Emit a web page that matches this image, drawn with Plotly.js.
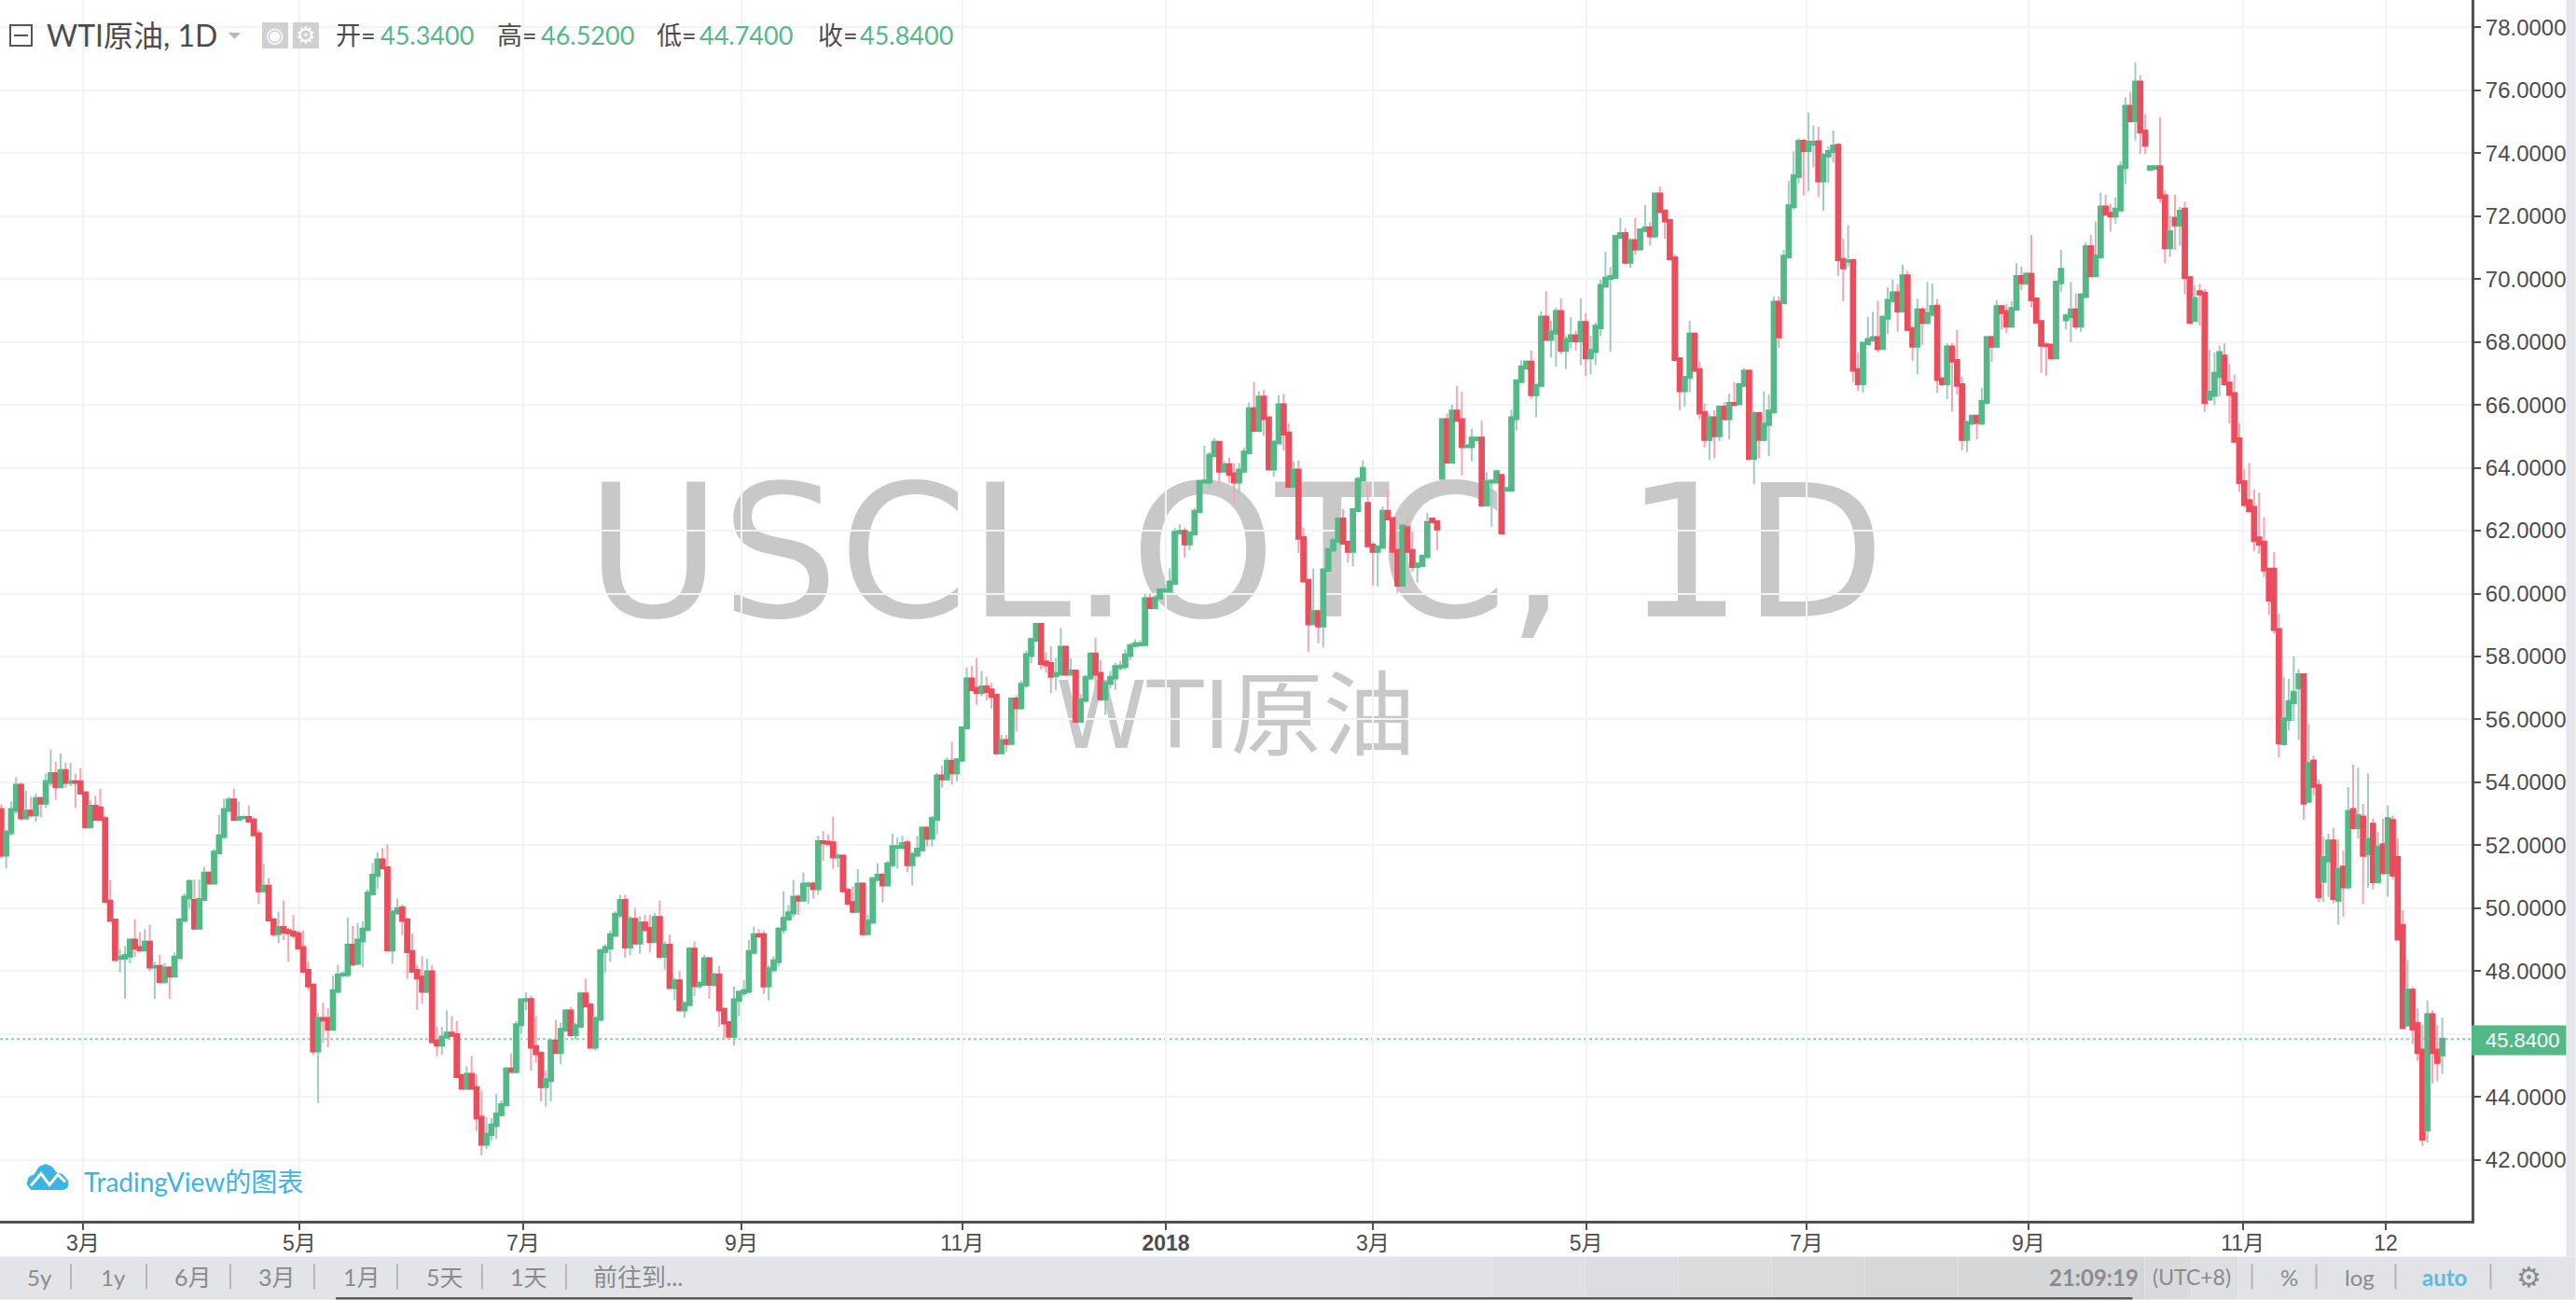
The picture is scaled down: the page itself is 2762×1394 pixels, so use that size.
<!DOCTYPE html>
<html>
<head>
<meta charset="utf-8">
<script src="https://cdn.plot.ly/plotly-3.0.1.min.js"></script>
<style>html,body{margin:0;padding:0;background:#fff;overflow:hidden}</style>
</head>
<body>
<div id="chart" style="width:2762px;height:1394px"></div>
<script>
// WTI daily bars, oldest first
const opens = [
53.14,51.69,52.40,53.11,53.91,52.87,53.09,52.97,53.49,53.34,
54.0,54.28,53.86,54.38,54.0,54.02,54.02,53.67,52.58,53.24,
53.19,52.85,50.23,49.63,48.41,48.41,48.48,48.99,48.75,48.67,
48.92,48.13,48.15,47.66,48.10,47.84,48.43,49.61,50.33,50.25,
49.37,50.28,51.12,50.80,51.76,52.28,53.11,53.44,52.82,52.87,
52.89,52.80,52.37,50.55,50.70,49.63,49.19,49.39,49.29,49.24,
49.19,48.75,48.03,47.56,45.46,46.50,46.50,46.16,47.36,47.88,
47.89,48.83,48.25,48.96,49.32,50.46,51.04,51.54,51.29,48.67,
49.85,50.01,49.63,48.63,48.03,47.81,47.36,47.98,45.78,45.65,
45.91,46.03,45.98,44.68,44.28,44.72,44.30,43.36,42.50,42.80,
43.09,43.44,43.75,44.89,44.81,46.30,47.07,47.10,45.60,45.39,
44.33,44.52,45.78,45.41,46.13,46.74,45.98,46.25,47.28,46.92,
45.58,46.47,48.63,48.73,49.14,49.78,50.25,48.77,49.65,48.89,
49.53,49.36,48.94,49.71,48.47,48.83,47.48,47.69,46.77,46.94,
48.70,47.54,47.58,48.40,47.58,47.88,46.79,46.37,45.93,47.07,
47.31,47.36,48.60,49.16,49.16,47.53,48.05,48.30,49.32,49.66,
49.85,50.35,50.26,50.72,50.77,50.62,52.12,52.10,52.08,51.63,
51.66,50.57,50.18,49.90,50.77,49.19,49.56,50.92,51.05,50.74,
51.38,51.93,51.94,52.08,51.38,51.69,51.86,52.55,52.23,52.82,
54.21,54.11,54.67,54.30,54.70,55.73,57.29,56.99,56.85,57.04,
56.94,56.77,54.94,55.33,55.24,56.65,56.37,57.09,58.03,58.52,
59.02,57.83,57.78,57.39,57.44,58.30,57.44,57.54,55.94,56.61,
57.32,58.08,57.47,56.65,57.14,57.32,57.65,57.68,58.03,58.35,
58.38,58.38,59.84,59.56,59.86,60.08,60.08,60.33,61.93,61.98,
61.58,61.90,62.60,63.54,63.54,64.38,64.81,63.89,64.10,63.81,
63.54,63.89,64.48,65.88,65.19,66.25,65.59,63.96,64.79,66.0,
65.11,63.41,63.93,61.78,60.42,59.04,59.43,58.97,60.74,61.38,
61.66,62.37,61.63,61.34,62.64,63.61,62.87,61.54,61.34,61.47,
62.62,62.39,61.37,60.27,62.10,61.37,60.86,60.89,61.17,62.37,
62.28,63.66,65.53,64.18,65.80,65.53,64.67,64.67,64.89,64.94,
62.82,63.54,63.54,63.76,63.29,63.29,65.56,66.74,67.17,67.36,
66.32,66.62,68.79,68.08,68.28,68.97,67.73,68.03,68.2,68.03,
68.62,67.49,67.69,68.45,69.77,70.01,70.05,71.32,71.44,70.53,
71.22,70.95,71.54,71.63,71.37,72.7,72.16,71.86,70.67,67.46,
66.45,66.87,68.25,67.12,65.76,64.9,65.59,65.02,65.93,65.56,
66.05,66.03,66.62,67.07,64.3,65.72,64.9,65.37,65.78,69.26,
69.24,70.7,72.3,73.26,74.38,74.08,74.28,74.36,73.12,73.91,
74.05,74.25,70.62,70.56,70.58,67.12,66.67,67.94,68.06,68.14,
67.79,68.75,69.31,69.56,68.98,70.1,68.42,67.86,69.02,68.62,
68.88,69.14,66.82,66.67,67.84,67.41,66.64,64.9,65.42,65.64,
65.42,66.08,68.14,67.86,69.12,68.97,68.5,69.04,70.08,69.88,
70.15,69.37,68.65,67.91,67.89,67.49,69.88,68.7,68.8,69.02,
68.5,69.44,71.03,70.1,70.7,72.29,72.09,72.0,72.19,73.54,
75.49,75.03,76.26,74.7,73.48,73.52,73.57,72.64,70.99,71.93,
71.72,72.22,70.04,68.68,69.6,69.55,66.18,66.3,66.9,67.55,
66.69,66.36,64.92,63.56,62.96,62.74,61.77,61.64,60.78,60.78,
58.86,55.23,56.0,56.53,57.0,57.42,53.4,54.68,53.9,50.86,
51.5,52.14,50.25,51.31,50.68,53.14,52.56,52.9,51.74,52.67,
50.84,52.02,51.13,52.79,51.61,49.46,46.29,47.4,46.34,45.49,
42.95,46.62,45.49,45.34];

const highs = [
53.3,52.5,53.4,54.16,54.0,53.73,53.54,53.64,53.54,54.28,
55.05,54.65,54.92,54.62,54.62,54.28,54.46,53.7,53.44,53.57,
53.8,52.94,50.9,49.65,48.70,48.80,49.04,49.65,49.24,49.34,
49.48,48.3,48.52,48.25,48.15,48.6,49.7,50.48,50.92,50.92,
50.92,51.31,51.17,51.89,52.97,53.49,53.54,53.80,53.39,52.95,
53.27,52.9,52.50,51.41,50.95,49.7,49.88,50.25,49.39,49.78,
49.29,49.29,48.30,47.61,46.67,46.99,46.82,47.86,48.2,48.0,
49.71,49.44,49.54,49.59,50.6,51.44,51.78,51.91,52.03,49.95,
50.31,50.13,49.7,49.19,48.2,48.47,48.4,48.2,46.23,46.23,
46.75,46.57,46.42,44.75,44.97,45.31,44.72,44.20,43.36,43.33,
44.1,43.9,44.95,45.39,46.42,47.12,47.33,47.22,46.57,45.45,
44.84,45.85,46.45,46.37,46.8,46.87,46.35,47.35,47.76,47.0,
46.57,48.72,48.85,49.3,49.9,50.43,50.43,49.75,50.0,49.75,
49.8,49.8,49.85,50.25,48.95,49.16,47.8,48.0,47.05,48.77,
48.94,47.7,48.52,48.45,47.95,48.17,46.85,46.42,47.51,47.4,
47.71,49.0,49.41,49.34,49.29,48.2,48.47,49.4,50.54,50.11,
50.90,50.45,51.14,50.85,50.85,52.30,52.45,52.35,52.91,51.76,
51.72,50.65,50.70,51.24,50.82,49.80,51.0,51.43,51.14,51.5,
52.37,52.25,52.3,52.18,51.8,52.30,52.6,52.6,52.94,54.3,
54.53,54.80,55.29,54.77,55.78,57.65,57.70,57.95,57.54,57.36,
57.16,56.8,55.51,55.51,56.7,56.77,57.24,58.18,58.6,59.07,
59.05,58.13,58.33,57.95,58.90,58.35,57.95,57.56,56.8,57.4,
58.13,58.60,57.88,57.25,57.54,57.81,57.85,58.23,58.42,58.55,
58.52,60.0,60.0,59.91,60.15,60.30,60.8,62.08,62.2,62.10,
61.98,62.72,63.61,64.70,64.5,64.94,64.85,64.2,64.33,64.15,
64.15,64.65,66.08,66.72,66.43,66.47,65.62,64.89,66.31,66.35,
65.42,64.2,64.23,62.10,60.45,60.80,59.46,60.80,61.44,61.78,
62.47,62.69,61.66,62.72,63.71,64.23,63.46,61.64,61.51,62.77,
63.28,62.42,61.40,62.23,62.42,61.98,60.99,61.24,62.57,62.42,
62.33,65.58,65.73,66.0,66.60,66.42,64.75,65.24,64.99,65.49,
63.86,63.61,63.94,63.78,63.36,65.85,66.8,67.41,67.41,67.73,
66.67,68.97,69.61,68.67,69.09,69.39,68.2,68.79,68.35,69.39,
68.91,68.2,68.62,69.98,70.87,70.38,71.4,71.94,71.61,71.3,
71.94,71.61,72.35,71.81,72.75,72.95,72.2,71.9,70.79,67.5,
66.92,68.67,68.3,67.37,66.05,65.7,65.83,65.98,66.08,66.35,
66.72,66.7,67.17,67.12,65.82,65.78,66.43,66.33,69.44,69.44,
70.92,73.12,74.06,74.47,74.45,75.29,74.88,74.84,74.0,74.22,
74.72,74.31,71.29,71.71,70.65,67.66,68.0,68.8,68.95,69.31,
68.85,69.74,69.98,69.83,70.46,70.26,68.5,69.37,69.1,69.91,
69.86,69.37,66.9,67.96,67.96,68.38,66.9,65.49,65.66,65.66,
66.55,68.2,68.2,69.32,69.18,69.21,69.29,70.5,70.4,70.23,
71.4,69.4,68.7,68.0,67.95,69.95,70.92,68.9,69.9,69.54,
69.55,71.17,71.4,71.82,72.75,72.68,72.38,72.59,73.74,75.77,
75.95,76.89,76.48,75.24,73.6,73.6,75.13,72.82,72.02,72.68,
72.29,72.46,70.1,69.81,69.84,69.68,67.76,67.66,67.88,67.95,
67.3,66.96,65.41,63.95,64.15,63.3,63.2,62.43,60.8,61.31,
59.36,57.34,57.29,58.0,57.61,57.47,55.86,54.86,54.09,52.27,
52.37,52.56,52.18,51.84,53.85,54.57,54.47,53.32,54.28,52.85,
52.42,52.85,53.27,52.95,52.21,49.94,48.35,47.5,46.82,46.29,
47.06,46.76,46.29,46.52];

const lows = [
51.6,51.27,52.3,53.0,52.8,52.80,52.89,52.75,52.89,53.2,
53.88,53.44,53.86,53.83,53.88,53.19,53.64,52.55,52.55,52.8,
52.8,50.18,49.58,48.35,47.96,47.12,48.25,48.45,48.65,48.65,
48.0,47.12,47.66,47.61,47.12,47.8,48.4,49.58,49.98,49.35,
49.35,50.25,50.77,50.75,51.7,52.2,53.05,52.8,52.8,52.85,
52.72,52.3,50.13,50.52,49.58,49.1,48.89,48.99,48.30,49.04,
48.7,47.96,47.41,45.34,43.81,45.73,45.58,46.1,47.3,47.8,
47.81,48.15,48.2,48.12,49.3,50.4,50.62,51.22,48.65,48.25,
49.8,49.14,47.76,47.95,46.77,46.97,47.3,45.72,45.29,45.34,
45.85,45.9,44.62,44.25,44.25,44.25,42.92,42.15,42.34,42.62,
42.67,43.4,43.7,44.78,44.75,46.0,46.77,44.84,45.09,43.86,
43.69,43.86,45.38,45.04,46.1,45.93,45.83,46.2,46.85,45.55,
45.47,46.4,47.96,48.3,49.1,49.7,48.42,48.5,48.85,48.55,
49.25,48.6,48.9,48.45,48.05,47.45,47.07,46.75,46.52,46.9,
47.21,47.45,47.55,47.12,47.5,46.23,45.83,45.83,45.63,46.57,
47.2,47.3,48.55,49.05,47.28,47.07,47.95,48.15,49.19,49.6,
49.73,49.78,50.2,50.13,50.31,50.43,51.51,52.0,51.26,51.31,
50.5,50.1,49.85,49.85,49.14,49.15,49.5,50.85,50.18,50.7,
51.3,51.26,51.85,51.14,50.72,51.61,51.8,51.96,51.96,52.35,
53.83,54.05,53.93,54.03,54.65,55.7,56.9,56.47,56.73,56.6,
56.35,54.87,54.9,54.97,55.2,55.61,56.3,57.0,57.78,58.45,
57.59,57.49,56.84,56.94,57.4,57.4,57.4,55.9,55.9,56.55,
57.25,57.0,56.6,56.15,56.99,56.94,57.55,57.58,57.88,58.28,
58.33,58.33,59.51,59.51,59.81,60.05,60.05,60.30,61.9,61.14,
61.39,61.88,62.57,63.5,63.36,64.35,63.46,63.86,63.51,62.87,
63.16,63.86,64.45,65.16,65.14,65.02,63.94,63.71,64.75,64.55,
63.38,63.36,61.29,60.35,58.15,59.02,58.42,58.28,60.70,61.34,
61.63,61.56,60.99,60.87,62.62,63.58,61.49,60.25,60.22,61.44,
62.33,60.70,60.02,60.25,61.29,60.70,60.35,60.84,61.14,62.23,
61.39,63.63,64.15,64.15,65.49,63.76,64.65,64.20,64.84,62.77,
62.77,62.13,63.51,61.86,63.26,63.26,65.19,66.72,67.14,66.2,
65.6,66.55,68.05,67.51,67.21,67.61,67.14,67.79,67.73,67.26,
66.92,66.97,67.26,68.2,69.74,67.69,70.0,71.28,70.48,70.36,
70.77,70.9,71.5,71.07,71.3,72.1,71.27,70.6,67.4,65.83,
65.95,66.4,67.05,65.54,64.65,64.25,64.3,64.85,65.5,64.9,
65.95,66.0,66.55,64.28,63.48,64.3,64.85,64.37,65.7,67.81,
69.2,70.65,72.2,73.04,72.65,72.8,73.55,72.6,72.17,73.06,
73.71,70.1,69.29,70.38,66.72,66.43,66.38,67.9,68.0,67.66,
67.75,68.25,69.25,68.32,68.95,68.35,67.39,66.97,67.91,68.55,
68.8,66.38,66.6,66.18,65.79,66.33,64.55,64.5,65.35,64.9,
65.35,66.0,67.37,67.8,68.38,68.27,68.45,69.0,69.64,69.8,
69.09,68.6,67.02,66.92,67.45,67.45,69.59,68.4,67.99,68.4,
68.32,69.4,70.08,70.08,70.68,72.03,71.5,71.76,72.15,73.01,
75.0,74.4,73.97,73.97,73.45,73.5,72.42,70.5,70.7,70.93,
71.06,69.51,68.58,68.65,68.52,65.77,66.14,66.0,66.27,66.6,
65.41,64.81,63.23,62.75,62.6,61.35,61.27,60.51,59.32,58.73,
54.8,55.17,55.65,55.95,55.35,52.81,53.35,53.59,50.2,50.2,
50.36,50.15,49.48,49.73,50.6,52.5,52.21,50.13,50.66,50.6,
50.78,51.05,50.36,50.91,48.98,46.18,46.25,45.68,45.15,42.44,
42.55,44.43,44.49,44.74];

const closes = [
51.69,52.42,53.14,53.91,52.87,53.09,52.97,53.49,53.34,54.03,
54.28,53.86,54.38,54.0,54.02,54.0,53.66,52.58,53.24,52.82,
52.82,50.21,49.61,48.37,48.45,48.50,48.99,48.73,48.67,48.92,
48.13,48.15,47.66,48.10,47.84,48.45,49.63,50.35,50.85,49.37,
50.28,51.12,50.80,51.78,52.30,53.14,53.44,52.82,52.89,52.89,
52.77,52.33,50.55,50.70,49.63,49.19,49.39,49.24,49.22,49.14,
48.73,48.0,47.53,45.46,46.50,46.45,46.16,47.38,47.88,47.91,
48.83,48.23,48.99,49.34,50.48,51.05,51.54,51.29,48.67,49.88,
49.98,49.61,48.62,48.0,47.78,47.36,47.98,45.76,45.65,45.91,
46.03,45.96,44.65,44.28,44.72,44.28,43.33,42.50,42.82,43.11,
43.46,43.76,44.89,44.81,46.30,47.09,47.10,45.58,45.37,44.33,
44.55,45.78,45.41,46.15,46.74,45.98,46.27,47.28,46.89,45.58,
46.49,48.65,48.75,49.16,49.81,50.25,48.77,49.65,48.89,49.53,
49.32,48.94,49.71,48.47,48.83,47.48,47.69,46.77,46.97,48.70,
47.54,47.61,48.40,47.58,47.88,46.77,46.35,45.93,47.09,47.33,
47.38,48.63,49.16,49.12,47.53,48.08,48.33,49.34,49.68,49.86,
50.35,50.26,50.77,50.77,50.62,52.12,52.08,52.05,51.63,51.66,
50.55,50.15,49.90,50.77,49.19,49.59,50.94,51.05,50.74,51.41,
51.96,51.96,52.06,51.38,51.71,51.88,52.55,52.22,52.85,54.21,
54.11,54.67,54.30,54.72,55.73,57.29,56.94,56.85,57.04,56.89,
56.73,54.94,55.33,55.24,56.65,56.37,57.12,58.06,58.54,59.02,
57.78,57.73,57.37,57.47,58.30,57.44,57.54,55.94,56.63,57.34,
58.08,57.44,56.65,57.16,57.34,57.68,57.70,58.05,58.35,58.41,
58.41,59.84,59.56,59.86,60.12,60.12,60.37,61.95,61.98,61.58,
61.93,62.62,63.56,63.58,64.40,64.81,63.89,64.10,63.79,63.54,
63.93,64.5,65.88,65.19,66.25,65.56,63.96,64.81,66.0,65.07,
63.41,63.93,61.76,60.40,59.04,59.43,58.97,60.76,61.41,61.68,
62.37,61.60,61.34,62.67,63.63,63.98,61.52,61.34,61.49,62.62,
62.37,61.34,60.27,62.15,61.34,60.86,60.94,61.19,62.26,62.28,
62.05,65.53,64.18,65.80,65.51,64.67,64.70,64.94,64.94,62.82,
63.56,63.58,63.88,61.93,63.34,65.59,66.77,67.20,67.36,66.32,
66.62,68.79,68.08,68.32,68.97,67.73,68.08,68.2,68.03,68.62,
67.49,67.73,68.5,69.8,70.03,70.08,71.35,71.44,70.53,71.22,
70.95,71.56,71.63,71.37,72.7,72.14,71.84,70.64,67.44,66.45,
66.87,68.25,67.1,65.74,64.9,65.59,65.02,65.93,65.56,66.05,
66.01,66.64,67.07,64.3,65.72,64.9,65.39,65.8,69.26,68.16,
70.72,72.33,73.29,74.38,74.08,74.35,74.35,73.12,73.93,74.05,
74.23,70.61,70.35,70.58,67.1,66.67,67.96,68.08,68.14,67.79,
68.78,69.32,69.56,68.98,70.1,68.4,67.86,69.02,68.62,68.9,
69.12,66.8,66.67,67.84,67.39,66.62,64.9,65.44,65.64,65.44,
66.11,68.14,67.86,69.12,68.93,68.5,69.06,70.08,69.88,70.15,
69.34,68.63,67.89,67.88,67.49,69.9,70.31,68.83,69.02,68.5,
69.49,71.03,70.1,70.73,72.29,72.06,72.0,72.22,73.57,75.49,
75.03,76.26,74.67,74.25,73.57,73.57,72.59,70.99,71.5,71.72,
72.15,70.04,68.62,69.38,69.52,66.07,66.4,67.0,67.66,66.67,
66.33,64.84,63.53,62.83,62.63,61.68,61.57,60.75,59.79,58.86,
55.25,56.02,56.57,56.87,57.42,53.34,54.61,53.87,50.36,51.61,
52.14,50.31,51.24,50.68,53.08,52.56,52.95,51.68,52.19,50.84,
51.95,51.13,52.85,51.05,49.02,46.2,47.4,46.16,45.41,42.66,
46.62,45.41,45.1,45.84];

// x axis labels sit at these bar numbers
const tickBars = [16.5, 60.2, 105.4, 149.5, 194.1, 235.2, 277, 320.1, 364.6, 409.4, 452.7, 481.6];
const tickLabels = ["3月", "5月", "7月", "9月", "11月", "<b>2018</b>", "3月", "5月", "7月", "9月", "11月", "12"];

// the 46 label is hidden behind the price tag in the original
const priceTicks = [42, 44, 46, 48, 50, 52, 54, 56, 58, 60, 62, 64, 66, 68, 70, 72, 74, 76, 78];
const priceTickLabels = ["42.0000", "44.0000", "", "48.0000", "50.0000", "52.0000", "54.0000", "56.0000", "58.0000", "60.0000", "62.0000", "64.0000", "66.0000", "68.0000", "70.0000", "72.0000", "74.0000", "76.0000", "78.0000"];

const lastPrice = 45.84;
const ohlcHeader = ["45.3400", "46.5200", "44.7400", "45.8400"];
const ohlcNames = ["开=", "高=", "低=", "收="];

const GREEN = "#53b987", RED = "#eb4d5c";
const WICK_GREEN = "#a0cbc2", WICK_RED = "#f3a7b3";
const GREY_TEXT = "#4c4c4c", BAR_TEXT = "#8a8b8d", BLUE = "#3bb3e4";
const FONT = "Lato, 'Noto Sans CJK SC', sans-serif";
const AXIS_FONT = "'Liberation Sans', 'Noto Sans CJK SC', sans-serif";

const plotW = 2650.5, plotH = 1309.5;
const barStep = 5.31, firstBarPx = 1.3;

// page pixels to paper fractions, only for the page furniture
const px = (x) => x / plotW;
const py = (y) => 1 - y / plotH;

function label(text, x, y, size, color, family, anchor) {
    return {
        text, x: px(x), y: py(y), xref: "paper", yref: "paper", showarrow: false,
        xanchor: anchor || "left", yanchor: "middle",
        font: { size, color, family: family || FONT },
    };
}

function box(x0, y0, x1, y1, fill, line) {
    return {
        type: "rect", xref: "paper", yref: "paper",
        x0: px(x0), x1: px(x1), y0: py(y0), y1: py(y1),
        fillcolor: fill, line: line || { width: 0 }, layer: "above",
    };
}

function vline(x, y0, y1, color) {
    return {
        type: "line", xref: "paper", yref: "paper",
        x0: px(x), x1: px(x), y0: py(y0), y1: py(y1),
        line: { color, width: 2 }, layer: "above",
    };
}

function pathShape(points, close, style) {
    const d = points.map((p, i) => `${i ? "L" : "M"}${px(p[0])},${py(p[1])}`).join(" ") + (close ? " Z" : "");
    return Object.assign({ type: "path", xref: "paper", yref: "paper", path: d, layer: "above" }, style);
}

function watermark(text, x0, y0, x1, y1, size) {
    return {
        type: "rect", xref: "paper", yref: "paper", layer: "below",
        x0: px(x0), x1: px(x1), y0: py(y0), y1: py(y1),
        fillcolor: "rgba(0,0,0,0)", line: { width: 0 },
        label: {
            text, textposition: "middle center",
            font: { size, color: "#c8c8c8", family: "'DejaVu Sans', 'Noto Sans CJK SC', sans-serif" },
        },
    };
}

const barIndex = opens.map((_, i) => i);

// wicks go in a pale trace, solid bodies go on top of it
const wickTrace = {
    type: "candlestick", x: barIndex, open: opens, high: highs, low: lows, close: closes,
    increasing: { line: { color: WICK_GREEN, width: 2 }, fillcolor: WICK_GREEN },
    decreasing: { line: { color: WICK_RED, width: 2 }, fillcolor: WICK_RED },
    whiskerwidth: 0, hoverinfo: "skip", showlegend: false,
};
const bodyTrace = {
    type: "candlestick", x: barIndex, open: opens, close: closes,
    high: opens.map((o, i) => Math.max(o, closes[i])),
    low: opens.map((o, i) => Math.min(o, closes[i])),
    increasing: { line: { color: GREEN, width: 3 }, fillcolor: GREEN },
    decreasing: { line: { color: RED, width: 3 }, fillcolor: RED },
    whiskerwidth: 0, hoverinfo: "skip", showlegend: false,
};

// bottom toolbar, a little darker towards the right
const toolbarBands = [
    [0, 1500, "#e3e4e7"], [1500, 1600, "#e1e2e5"], [1600, 1700, "#dfe0e3"], [1700, 1800, "#dcdde0"],
    [1800, 1900, "#dadbdd"], [1900, 2000, "#d8d9db"], [2000, 2100, "#d6d7d9"], [2100, 2300, "#d5d6d8"],
    [2300, 2350, "#d9dadc"], [2350, 2400, "#dedfe1"], [2400, 2762, "#e2e3e6"],
];

const shapes = [
    watermark("USCL.OTC, 1D", 500, 468, 2150, 688, 198.5),
    watermark("WTI原油", 1050, 696, 1600, 826, 99),
    {
        type: "line", xref: "paper", yref: "y", x0: 0, x1: 1, y0: lastPrice, y1: lastPrice,
        line: { color: "rgba(83,185,135,0.65)", width: 2, dash: "dot" }, layer: "below",
    },
    box(2752, 0, 2762, 1348, "#e4e6ea"),
];
toolbarBands.forEach((b) => shapes.push(box(b[0], 1348, b[1], 1394, b[2])));
shapes.push(box(360, 1391.5, 2287, 1394, "#5a5b5e"));
[76, 157, 247, 337, 426, 517, 607, 2415, 2484, 2569, 2671].forEach((x) => shapes.push(vline(x, 1356, 1383, "#b4b5b8")));
// green price tag on the axis
shapes.push(box(2650.5, 1100, 2752, 1132, GREEN));
// legend icons
shapes.push(box(11, 27, 34, 49, "rgba(0,0,0,0)", { color: "#555", width: 2 }));
shapes.push(pathShape([[15, 38], [30, 38]], false, { line: { color: "#555", width: 2 } }));
shapes.push(pathShape([[245, 35], [258, 35], [251.5, 42]], true, { fillcolor: "#b9b9b9", line: { width: 0 } }));
shapes.push(box(281, 24, 309, 52, "#d0d0d0"));
shapes.push(box(314, 24, 342, 52, "#d0d0d0"));
// tradingview cloud
shapes.push(pathShape(
    [[29, 1270], [31, 1263], [37, 1260], [42, 1252], [49, 1249], [56, 1252], [60, 1258], [67, 1260], [73, 1267], [72, 1274], [68, 1276], [33, 1276]],
    true, { fillcolor: BLUE, line: { color: BLUE, width: 1 } }));
shapes.push(pathShape([[33, 1272], [44, 1259], [53, 1271], [62, 1260], [70, 1268]], false, { line: { color: "#fff", width: 3 } }));

const annotations = [
    label("WTI原油, 1D", 48, 38, 32, GREY_TEXT),
    label("◉", 295, 38, 22, "#fff", "'DejaVu Sans'", "center"),
    label("⚙", 328, 38, 24, "#fff", "'DejaVu Sans'", "center"),
    label("TradingView的图表", 88, 1267, 28, BLUE),
    label("45.8400", 2664, 1116, 22, "#fff", AXIS_FONT),
    label("5y", 27, 1370, 24, BAR_TEXT),
    label("1y", 106, 1370, 24, BAR_TEXT),
    label("6月", 185, 1370, 25, BAR_TEXT),
    label("3月", 275, 1370, 25, BAR_TEXT),
    label("1月", 366, 1370, 25, BAR_TEXT),
    label("5天", 455, 1370, 25, BAR_TEXT),
    label("1天", 545, 1370, 25, BAR_TEXT),
    label("前往到...", 634, 1370, 26, BAR_TEXT),
    label("<b>21:09:19</b>", 2195, 1370, 24, BAR_TEXT),
    label("(UTC+8)", 2306, 1370, 23, BAR_TEXT),
    label("%", 2443, 1370, 24, BAR_TEXT),
    label("log", 2512, 1370, 24, BAR_TEXT),
    label("<b>auto</b>", 2595, 1370, 24, "#54bde0"),
    label("⚙", 2712, 1370, 30, BAR_TEXT, "'DejaVu Sans'", "center"),
];
const headerNameX = [358, 531, 702, 875], headerValueX = [406, 578, 748, 920];
ohlcNames.forEach((name, i) => {
    annotations.push(label(name, headerNameX[i], 38, 27, GREY_TEXT));
    annotations.push(label(ohlcHeader[i], headerValueX[i], 38, 27, GREEN));
});

const layout = {
    width: 2762, height: 1394,
    margin: { l: 0, r: 2762 - plotW, t: 0, b: 1394 - plotH, pad: 0 },
    paper_bgcolor: "#fff", plot_bgcolor: "#fff",
    showlegend: false, boxgap: 0, boxmode: "overlay",
    xaxis: {
        range: [(0 - firstBarPx) / barStep, (plotW - firstBarPx) / barStep],
        rangeslider: { visible: false },
        tickmode: "array", tickvals: tickBars, ticktext: tickLabels,
        tickangle: 0, ticklabelstandoff: -6,
        showgrid: true, gridcolor: "#f1f3f5", gridwidth: 2, zeroline: false,
        showline: true, linecolor: "#505050", linewidth: 3,
        ticks: "outside", ticklen: 7, tickcolor: "#505050", tickwidth: 2,
        tickfont: { family: AXIS_FONT, size: 23, color: GREY_TEXT },
    },
    yaxis: {
        side: "right",
        range: [40.068, 78.867],
        tickmode: "array", tickvals: priceTicks, ticktext: priceTickLabels,
        showgrid: true, gridcolor: "#f1f3f5", gridwidth: 2, zeroline: false,
        showline: true, linecolor: "#505050", linewidth: 3,
        ticks: "outside", ticklen: 7, tickcolor: "#505050", tickwidth: 2,
        tickfont: { family: AXIS_FONT, size: 24, color: GREY_TEXT },
    },
    shapes, annotations,
};

Plotly.newPlot("chart", [wickTrace, bodyTrace], layout, { displayModeBar: false, staticPlot: true });
</script>
</body>
</html>
